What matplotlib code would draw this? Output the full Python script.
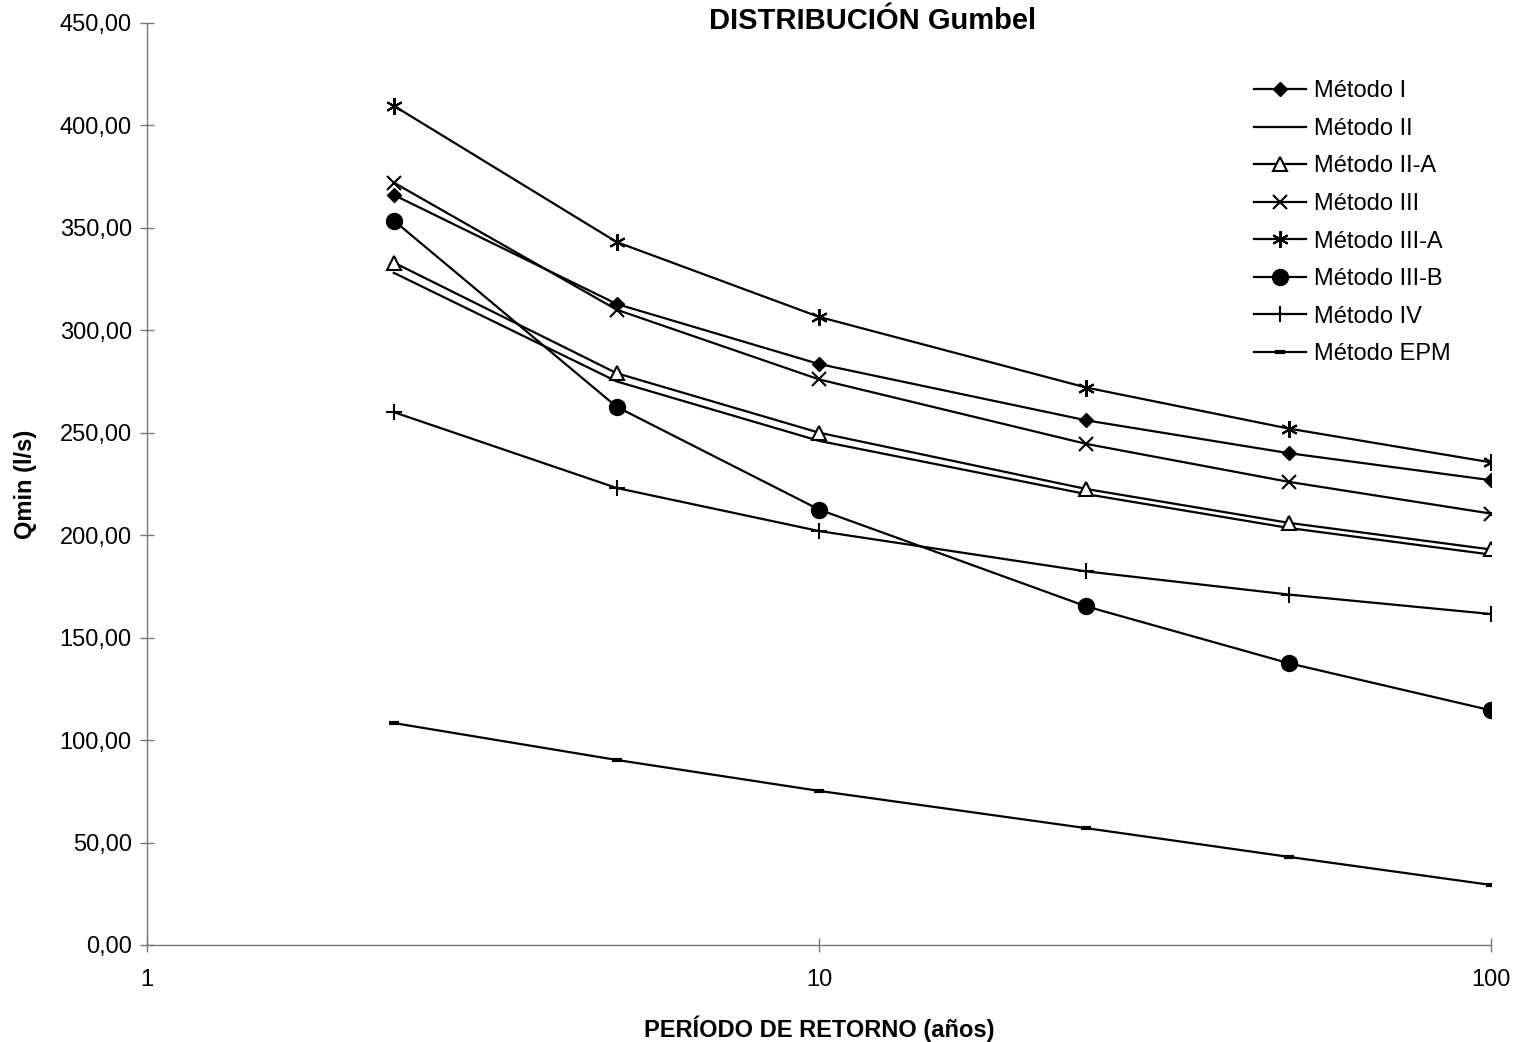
import matplotlib
matplotlib.use("Agg")
import matplotlib.pyplot as plt
from matplotlib.ticker import FixedLocator, FuncFormatter, NullLocator

plt.rcParams['font.family'] = ['Liberation Sans', 'DejaVu Sans']

periodo = [2.33, 5, 10, 25, 50, 100]
metodo_I = [366.0, 312.8, 283.5, 256.0, 240.0, 226.8]
metodo_II = [328.0, 275.0, 246.0, 220.0, 203.5, 190.5]
metodo_IIA = [333.0, 279.0, 250.0, 222.5, 206.0, 193.0]
metodo_III = [372.0, 310.0, 276.0, 244.5, 226.0, 210.5]
metodo_IIIA = [409.5, 343.0, 306.5, 272.0, 252.0, 235.5]
metodo_IIIB = [353.5, 262.6, 212.5, 165.2, 137.5, 114.5]
metodo_IV = [260.0, 223.0, 202.0, 182.3, 171.0, 161.5]
metodo_EPM = [108.3, 90.3, 75.2, 57.0, 43.0, 29.3]

series = [
    ("Método I", metodo_I, dict(marker='D', markersize=7.5, markerfacecolor='black')),
    ("Método II", metodo_II, dict(marker=None)),
    ("Método II-A", metodo_IIA, dict(marker='^', markersize=10, markerfacecolor='white', markeredgewidth=1.5)),
    ("Método III", metodo_III, dict(marker='x', markersize=10, markeredgewidth=1.5)),
    ("Método III-A", metodo_IIIA, dict(marker=(6, 2, 0), markersize=12, markeredgewidth=1.5)),
    ("Método III-B", metodo_IIIB, dict(marker='o', markersize=11.5, markerfacecolor='black')),
    ("Método IV", metodo_IV, dict(marker='+', markersize=12, markeredgewidth=1.5)),
    ("Método EPM", metodo_EPM, dict(marker='_', markersize=7, markeredgewidth=3)),
]

fig = plt.figure(figsize=(15.17, 10.42), dpi=100)
ax = fig.add_axes([0.0969, 0.0931, 0.886, 0.885])

for name, vals, style in series:
    ax.plot(periodo, vals, color='black', linewidth=1.6, label=name,
            markeredgecolor='black', **style)

ax.set_xscale('log')
ax.set_xlim(1, 100)
ax.set_ylim(0, 450)
ax.xaxis.set_major_locator(FixedLocator([1, 10, 100]))
ax.xaxis.set_minor_locator(NullLocator())
ax.xaxis.set_major_formatter(FuncFormatter(lambda v, p: f"{v:g}"))
ax.set_yticks([0, 50, 100, 150, 200, 250, 300, 350, 400, 450])
ax.yaxis.set_major_formatter(FuncFormatter(lambda v, p: f"{v:.2f}".replace('.', ',')))

for s in ['top', 'right']:
    ax.spines[s].set_visible(False)
for s in ['left', 'bottom']:
    ax.spines[s].set_color('#777777')
    ax.spines[s].set_linewidth(1.0)
ax.tick_params(axis='both', direction='inout', length=10, width=1.0, color='#777777',
               labelsize=17, labelcolor='black')
ax.tick_params(axis='x', pad=12)
ax.tick_params(axis='y', pad=6)

fig.text(873 / 1517, 1 - 21 / 1042, "DISTRIBUCIÓN Gumbel", fontsize=21,
         fontweight='bold', ha='center', va='center')
ax.set_xlabel("PERÍODO DE RETORNO (años)", fontsize=17, fontweight='bold', labelpad=18)
ax.set_ylabel("Qmin (l/s)", fontsize=17, fontweight='bold', labelpad=16)

leg = ax.legend(loc='upper right', bbox_to_anchor=(0.977, 0.948), frameon=False,
                fontsize=17, handlelength=2.2, handletextpad=0.35, labelspacing=0.66,
                borderaxespad=0)

fig.savefig("out.png", dpi=100, facecolor='white')
